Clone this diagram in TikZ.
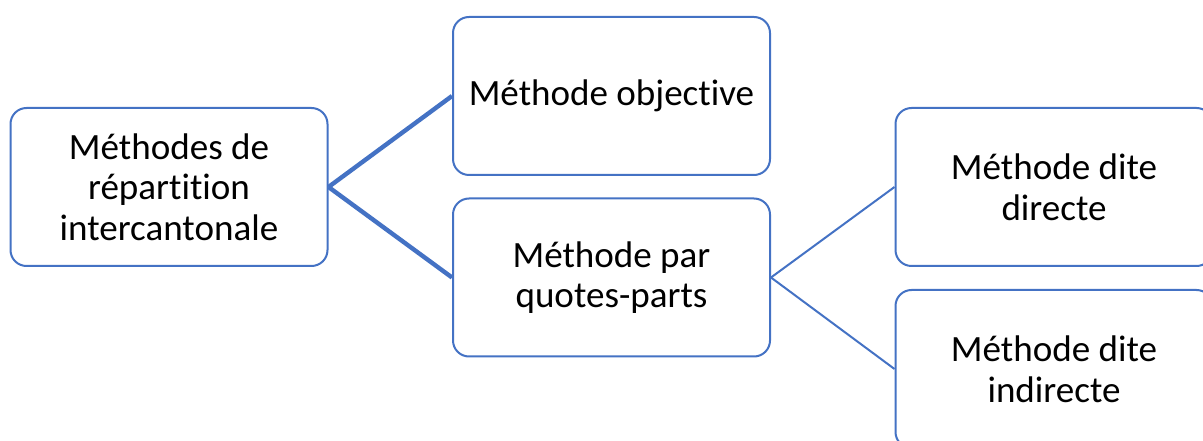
\documentclass[tikz,border=0pt]{standalone}
\usepackage{fontspec}
\setmainfont[Ligatures=CommonOff]{Carlito}
\definecolor{offblue}{HTML}{4472C4}
\tikzset{
  boxnode/.style={draw=offblue, line width=1.5pt, fill=white, rounded corners=12pt,
    minimum width=237.75pt, minimum height=118.5pt, align=center, inner sep=0pt,
    font=\fontsize{27.8pt}{30.5pt}\selectfont, text=black},
  thickconn/.style={draw=offblue, line width=3.3pt},
  thinconn/.style={draw=offblue, line width=1.5pt}
}
\begin{document}
\begin{tikzpicture}[x=0.75pt,y=-0.75pt]
\useasboundingbox (0,0) rectangle (1203,441);
\clip (0,0) rectangle (1203,441);
\node[boxnode] (A) at (169,187) {Méthodes de\\répartition\\intercantonale};
\node[boxnode] (B) at (611.5,96) {Méthode objective};
\node[boxnode] (C) at (611.5,277.5) {Méthode par\\quotes-parts};
\node[boxnode] (D) at (1054,187) {Méthode dite\\directe};
\node[boxnode] (E) at (1054,369) {Méthode dite\\indirecte};
\draw[thickconn] (A.east) -- (B.west);
\draw[thickconn] (A.east) -- (C.west);
\draw[thinconn] (C.east) -- (D.west);
\draw[thinconn] (C.east) -- (E.west);
\end{tikzpicture}
\end{document}
